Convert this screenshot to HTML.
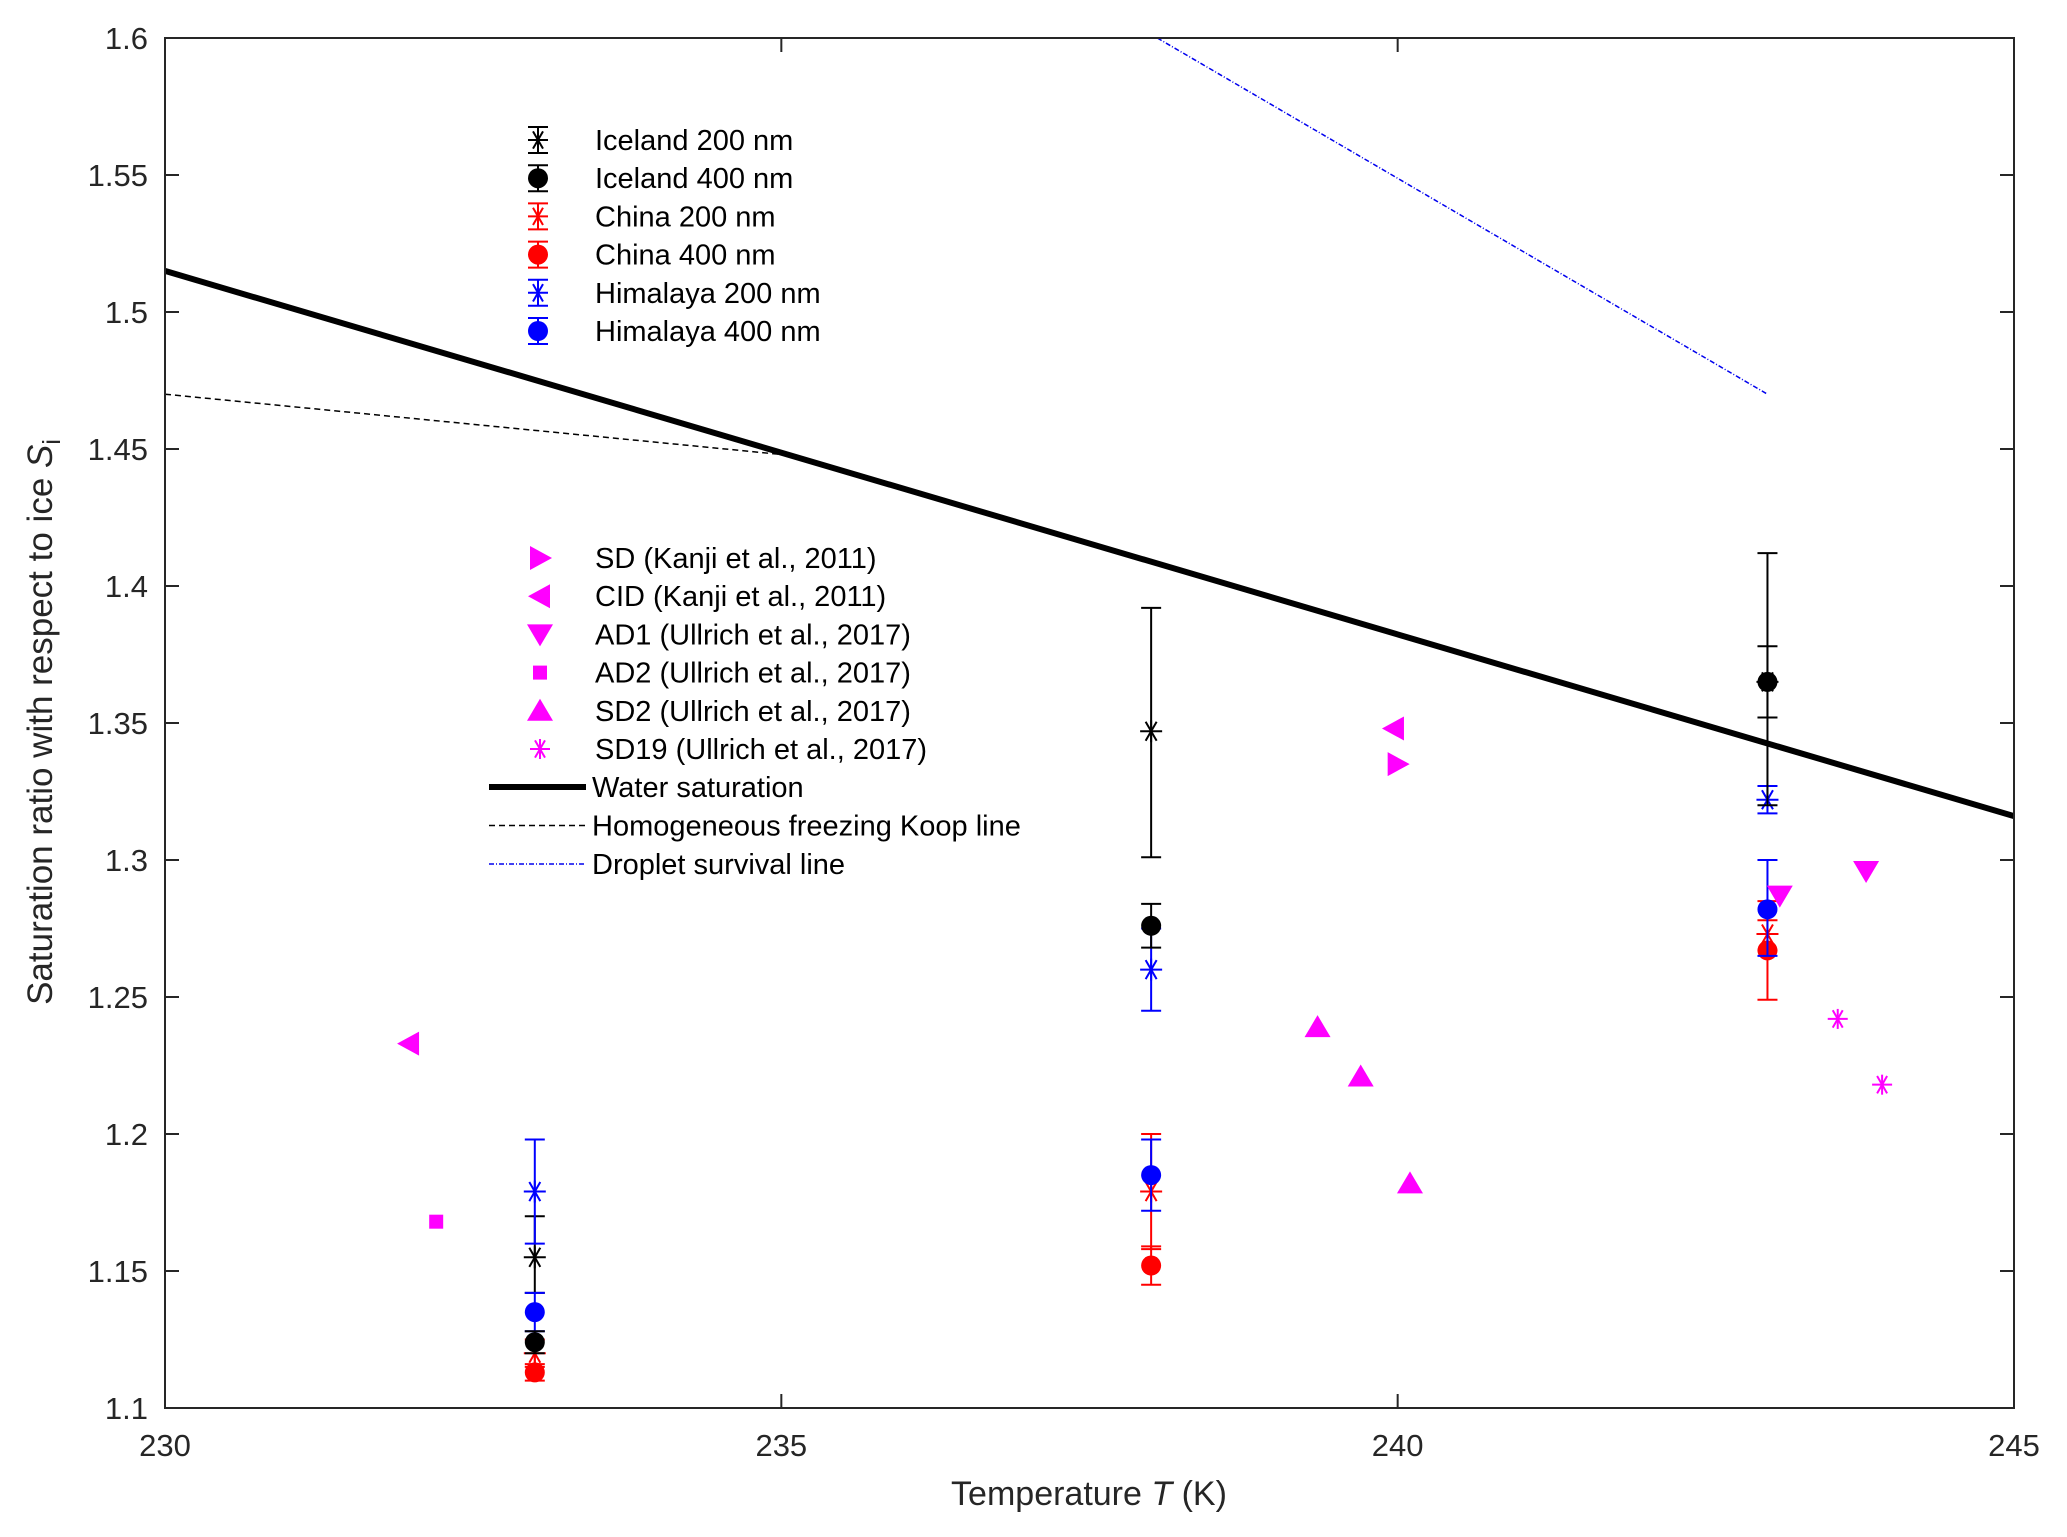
<!DOCTYPE html>
<html><head><meta charset="utf-8"><style>
html,body{margin:0;padding:0;background:#fff;}
svg{display:block;font-family:"Liberation Sans",Arial,sans-serif;}
</style></head><body>
<svg id="chart" width="2067" height="1537" viewBox="0 0 2067 1537" xmlns="http://www.w3.org/2000/svg">
<rect width="2067" height="1537" fill="#fff"/>
<g id="grid"></g>
<g id="lines"></g>
<g id="marks"></g>
<g id="legend"></g>
<rect x="165" y="38" width="1849" height="1370" fill="none" stroke="#262626" stroke-width="2"/>
<text x="1089" y="1505" font-size="34" text-anchor="middle" fill="#262626">Temperature <tspan font-style="italic">T</tspan> (K)</text>
<text transform="translate(52,722) rotate(-90)" font-size="35" text-anchor="middle" fill="#262626">Saturation ratio with respect to ice <tspan font-style="italic">S</tspan><tspan font-size="25" dy="8">i</tspan></text>
</svg>
<script>
const xTicks=[230,235,240,245];
const yTicks=[1.1,1.15,1.2,1.25,1.3,1.35,1.4,1.45,1.5,1.55,1.6];
const temps=[233,238,243];
const iceland200=[1.155,1.347,1.365], iceland200Err=[[1.142,1.17],[1.301,1.392],[1.352,1.378]];
const iceland400=[1.124,1.276,1.365], iceland400Err=[[1.12,1.128],[1.268,1.284],[1.32,1.412]];
const china200=[1.12,1.179,1.273], china200Err=[[1.115,1.125],[1.158,1.2],[1.267,1.278]];
const china400=[1.113,1.152,1.267], china400Err=[[1.11,1.116],[1.145,1.159],[1.249,1.285]];
const hima200=[1.179,1.26,1.322], hima200Err=[[1.16,1.198],[1.245,1.275],[1.317,1.327]];
const hima400=[1.135,1.185,1.282], hima400Err=[[1.128,1.142],[1.172,1.198],[1.265,1.3]];
const sdT=[240.0], sdS=[1.335];
const cidT=[239.97,231.98], cidS=[1.348,1.233];
const ad1T=[243.1,243.8], ad1S=[1.287,1.296];
const ad2T=[232.2], ad2S=[1.168];
const sd2T=[239.35,239.7,240.1], sd2S=[1.239,1.221,1.182];
const sd19T=[243.57,243.93], sd19S=[1.242,1.218];
const waterT=[230,245], waterS=[1.515,1.316];
const koopT=[230,235], koopS=[1.47,1.448];
const dropT=[238.05,243], dropS=[1.6,1.47];

const NS="http://www.w3.org/2000/svg";
const X=t=>165+(t-230)/15*1849;
const Y=s=>1408-(s-1.1)/0.5*1370;
function mk(tag,attrs,parent){const e=document.createElementNS(NS,tag);for(const k in attrs)e.setAttribute(k,attrs[k]);parent.appendChild(e);return e;}
const grid=document.getElementById('grid'),lines=document.getElementById('lines'),marks=document.getElementById('marks'),leg=document.getElementById('legend');
xTicks.forEach(t=>{
  let l=mk('line',{x1:X(t),x2:X(t),y1:1408,y2:1394,stroke:'#262626','stroke-width':2},grid);
  
  
  let l2=mk('line',{x1:X(t),x2:X(t),y1:38,y2:52,stroke:'#262626','stroke-width':2},grid);
  
  
  let tx=mk('text',{x:X(t),y:1456,'font-size':31,'text-anchor':'middle',fill:'#262626'},grid);tx.textContent=t;
  
  
});
yTicks.forEach(s=>{
  let l=mk('line',{x1:165,x2:179,y1:Y(s),y2:Y(s),stroke:'#262626','stroke-width':2},grid);
  
  
  let l2=mk('line',{x1:2000,x2:2014,y1:Y(s),y2:Y(s),stroke:'#262626','stroke-width':2},grid);
  
  
  let tx=mk('text',{x:148,y:Y(s)+11,'font-size':31,'text-anchor':'end',fill:'#262626'},grid);tx.textContent=String(s);
  
  
});
function drawLine(T,S,stroke,w,dash,name){
  let l=mk('line',{x1:X(T[0]),y1:Y(S[0]),x2:X(T[1]),y2:Y(S[1]),stroke:stroke,'stroke-width':w},lines);
  if(dash)l.setAttribute('stroke-dasharray',dash);
  
  
}
drawLine(waterT,waterS,'#000',6,null,'water-saturation-line');
drawLine(koopT,koopS,'#000',1.5,'6,4','koop-line');
drawLine(dropT,dropS,'#0000ee',1.5,'5,2,1,2','droplet-survival-line');

function star(g,x,y,c,r){
  [[r,0],[r*0.5,r*0.866],[r*0.5,-r*0.866],[0,r]].forEach(([dx,dy])=>mk('line',{x1:x-dx,y1:y-dy,x2:x+dx,y2:y+dy,stroke:c,'stroke-width':2},g));
}
function errbar(g,x,lo,hi,c){
  mk('line',{x1:x,x2:x,y1:lo,y2:hi,stroke:c,'stroke-width':2},g);
  mk('line',{x1:x-10,x2:x+10,y1:lo,y2:lo,stroke:c,'stroke-width':2},g);
  mk('line',{x1:x-10,x2:x+10,y1:hi,y2:hi,stroke:c,'stroke-width':2},g);
}
function series(vals,errs,c,type,name){
  vals.forEach((v,i)=>{
    const g=mk('g',{},marks);
    
    
    const x=X(temps[i]);
    errbar(g,x,Y(errs[i][0]),Y(errs[i][1]),c);
    if(type==='star')star(g,x,Y(v),c,11);else mk('circle',{cx:x,cy:Y(v),r:10,fill:c},g);
  });
}
series(iceland200,iceland200Err,'#000','star','iceland-200');
series(china200,china200Err,'#ff0000','star','china-200');
series(hima200,hima200Err,'#0000ff','star','himalaya-200');
series(china400,china400Err,'#ff0000','dot','china-400');
series(hima400,hima400Err,'#0000ff','dot','himalaya-400');
series(iceland400,iceland400Err,'#000','dot','iceland-400');

const M='#ff00ff';
function shape(g,type,x,y){
  const r=12;
  if(type==='right')mk('polygon',{points:`${x+r},${y} ${x-r+2},${y-r} ${x-r+2},${y+r}`,fill:M},g);
  else if(type==='left')mk('polygon',{points:`${x-r},${y} ${x+r-2},${y-r} ${x+r-2},${y+r}`,fill:M},g);
  else if(type==='down')mk('polygon',{points:`${x-r-1},${y-r+2} ${x+r+1},${y-r+2} ${x},${y+r}`,fill:M},g);
  else if(type==='up')mk('polygon',{points:`${x-r-1},${y+r-2} ${x+r+1},${y+r-2} ${x},${y-r}`,fill:M},g);
  else if(type==='square')mk('rect',{x:x-7,y:y-7,width:14,height:14,fill:M},g);
  else if(type==='star'){star(g,x,y,M,10);}
}
function lit(T,S,type,name){
  T.forEach((t,i)=>{
    const g=mk('g',{},marks);
    
    
    shape(g,type,X(t),Y(S[i]));
  });
}
lit(sdT,sdS,'right','sd-kanji');
lit(cidT,cidS,'left','cid-kanji');
lit(ad1T,ad1S,'down','ad1-ullrich');
lit(ad2T,ad2S,'square','ad2-ullrich');
lit(sd2T,sd2S,'up','sd2-ullrich');
lit(sd19T,sd19S,'star','sd19-ullrich');

const leg1=[['Iceland 200 nm','#000','star'],['Iceland 400 nm','#000','dot'],['China 200 nm','#ff0000','star'],['China 400 nm','#ff0000','dot'],['Himalaya 200 nm','#0000ff','star'],['Himalaya 400 nm','#0000ff','dot']];
leg1.forEach((e,i)=>{
  const y=140+i*38.2;
  const g=mk('g',{},leg);
  
  
  errbar(g,538,y-13,y+13,e[1]);
  if(e[2]==='star')star(g,538,y,e[1],10);else mk('circle',{cx:538,cy:y,r:10,fill:e[1]},g);
  const t=mk('text',{x:595,y:y+10,'font-size':29,fill:'#000'},g);t.textContent=e[0];
});
const leg2=[['SD (Kanji et al., 2011)','right'],['CID (Kanji et al., 2011)','left'],['AD1 (Ullrich et al., 2017)','down'],['AD2 (Ullrich et al., 2017)','square'],['SD2 (Ullrich et al., 2017)','up'],['SD19 (Ullrich et al., 2017)','star']];
leg2.forEach((e,i)=>{
  const y=558+i*38.2;
  const g=mk('g',{},leg);
  
  
  shape(g,e[1],540,y);
  const t=mk('text',{x:595,y:y+10,'font-size':29,fill:'#000'},g);t.textContent=e[0];
});
const leg3=[['Water saturation','#000',6,null],['Homogeneous freezing Koop line','#000',1.5,'6,4'],['Droplet survival line','#0000ee',1.5,'5,2,1,2']];
leg3.forEach((e,i)=>{
  const y=787+i*38.5;
  const g=mk('g',{},leg);
  
  
  const l=mk('line',{x1:489,x2:586,y1:y,y2:y,stroke:e[1],'stroke-width':e[2]},g);
  if(e[3])l.setAttribute('stroke-dasharray',e[3]);
  const t=mk('text',{x:592,y:y+10,'font-size':29,fill:'#000'},g);t.textContent=e[0];
});
</script>
</body></html>
